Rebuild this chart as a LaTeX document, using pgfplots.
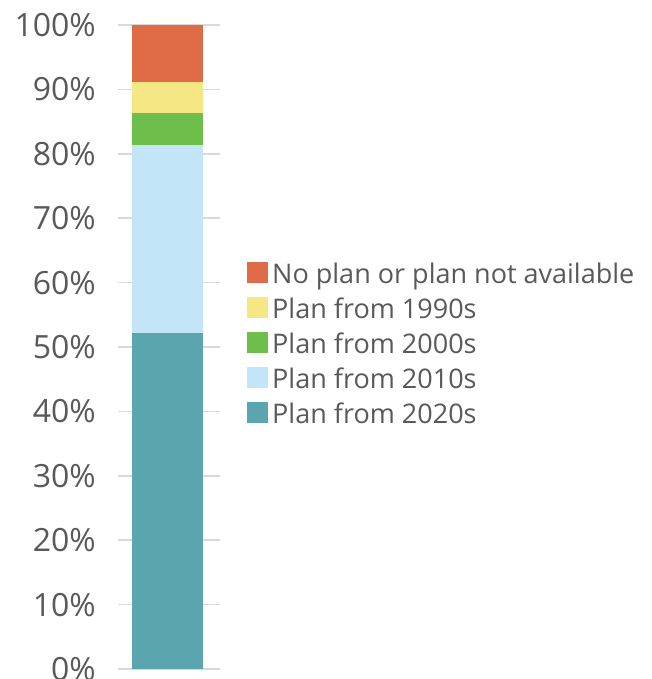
\documentclass[border=0pt]{standalone}
\usepackage{pgfplots}
\pgfplotsset{compat=1.18}
\usepackage{fontspec}
\setmainfont{Open Sans}

\definecolor{txt}{HTML}{595959}
\definecolor{gridgray}{HTML}{D9D9D9}
\definecolor{noplan}{HTML}{E06C47}
\definecolor{p1990}{HTML}{F5E884}
\definecolor{p2000}{HTML}{6DBE4A}
\definecolor{p2010}{HTML}{C2E6F8}
\definecolor{p2020}{HTML}{5BA5AE}

\begin{document}
\begin{tikzpicture}
\useasboundingbox (-118pt,-10pt) rectangle (533pt,669pt);
\begin{axis}[
    scale only axis,
    width=102pt, height=644pt,
    ybar stacked, bar width=71pt,
    enlargelimits=false,
    xmin=-49.5, xmax=52.5,
    ymin=0, ymax=100,
    xtick=\empty,
    ytick={0,10,...,100},
    yticklabel={\pgfmathprintnumber{\tick}\%},
    /pgf/number format/assume math mode=true,
    ymajorgrids=true,
    grid style={color=gridgray, line width=1.5pt},
    axis line style={draw=none},
    major tick length=0pt,
    tick label style={font=\fontsize{32}{32}\selectfont, text=txt},
    yticklabel style={inner sep=0pt, xshift=-22pt},
    reverse legend,
    legend cell align=left,
    legend image code/.code={\fill[#1] (0pt,-6.4pt) rectangle (21pt,14.6pt);},
    legend style={at={(1,0.502)}, anchor=west, xshift=27pt,
        draw=none, fill=none, inner sep=0pt,
        font=\fontsize{27}{27}\selectfont, text=txt,
        column sep=4pt, row sep=7.5pt,
        nodes={inner sep=0pt, text height=20pt, text depth=6pt}},
]
\addplot[fill=p2020, draw=none] coordinates {(0,52.2)};
\addplot[fill=p2010, draw=none] coordinates {(0,29.1)};
\addplot[fill=p2000, draw=none] coordinates {(0,5.0)};
\addplot[fill=p1990, draw=none] coordinates {(0,4.9)};
\addplot[fill=noplan, draw=none] coordinates {(0,8.8)};
\legend{Plan from 2020s, Plan from 2010s, Plan from 2000s, Plan from 1990s, No plan or plan not available}
\end{axis}
\end{tikzpicture}
\end{document}
